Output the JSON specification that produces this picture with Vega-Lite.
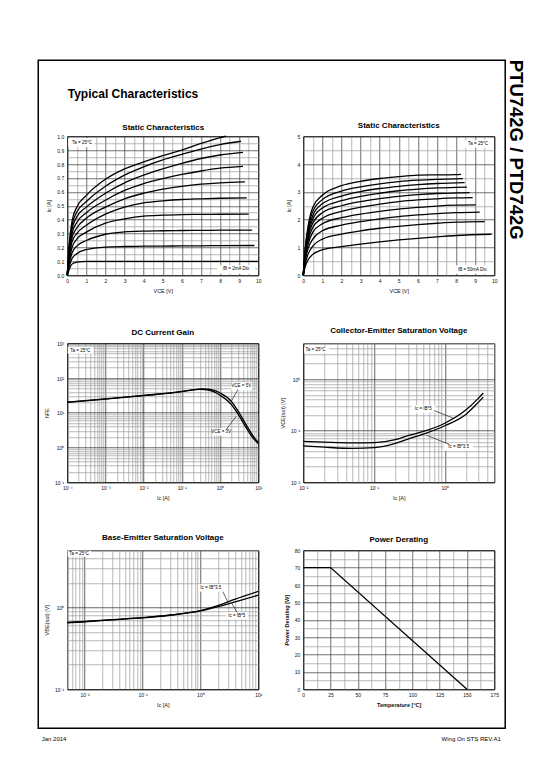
{
"$schema": "https://vega.github.io/schema/vega-lite/v6.json",
"background": "white",
"padding": {"left": 36.25, "top": 58.25, "right": 0, "bottom": 0},
"config": {
  "font": "Liberation Sans",
  "view": {"stroke": "black", "strokeWidth": 1},
  "axis": {"domain": false, "ticks": false, "labelFontSize": 5, "labelColor": "#111", "titleFontSize": 5.5, "titleFontWeight": "normal", "titleColor": "#111", "labelPadding": 3.5, "titlePadding": 5, "gridWidth": 0.7, "gridOpacity": 1, "labelFlush": false, "labelOverlap": false, "labelBound": false},
  "title": {"fontSize": 8, "fontWeight": "bold", "color": "black", "frame": "group", "offset": 4, "anchor": "middle"},
  "line": {"color": "black", "strokeWidth": 1.3},
  "rule": {"color": "black", "strokeWidth": 0.6},
  "text": {"fontSize": 4.5, "color": "black"}
},
"datasets": {
  "s1": [
    {"ib":2,"v":0,"i":0},{"ib":2,"v":0.1,"i":0.04},{"ib":2,"v":0.25,"i":0.08},{"ib":2,"v":0.5,"i":0.095},{"ib":2,"v":1,"i":0.1},{"ib":2,"v":2,"i":0.1},{"ib":2,"v":3,"i":0.1},{"ib":2,"v":4,"i":0.1},{"ib":2,"v":5,"i":0.1},{"ib":2,"v":6,"i":0.1},{"ib":2,"v":7,"i":0.1},{"ib":2,"v":8,"i":0.1},{"ib":2,"v":10,"i":0.1},
    {"ib":4,"v":0,"i":0},{"ib":4,"v":0.1,"i":0.06},{"ib":4,"v":0.25,"i":0.12},{"ib":4,"v":0.5,"i":0.155},{"ib":4,"v":1,"i":0.185},{"ib":4,"v":2,"i":0.203},{"ib":4,"v":3,"i":0.207},{"ib":4,"v":4,"i":0.209},{"ib":4,"v":5,"i":0.21},{"ib":4,"v":6,"i":0.211},{"ib":4,"v":7,"i":0.212},{"ib":4,"v":8,"i":0.213},{"ib":4,"v":9.8,"i":0.214},
    {"ib":6,"v":0,"i":0},{"ib":6,"v":0.1,"i":0.08},{"ib":6,"v":0.25,"i":0.16},{"ib":6,"v":0.5,"i":0.21},{"ib":6,"v":1,"i":0.25},{"ib":6,"v":2,"i":0.295},{"ib":6,"v":3,"i":0.312},{"ib":6,"v":4,"i":0.318},{"ib":6,"v":5,"i":0.32},{"ib":6,"v":6,"i":0.322},{"ib":6,"v":7,"i":0.323},{"ib":6,"v":8,"i":0.324},{"ib":6,"v":9.68,"i":0.325},
    {"ib":8,"v":0,"i":0},{"ib":8,"v":0.1,"i":0.1},{"ib":8,"v":0.25,"i":0.2},{"ib":8,"v":0.5,"i":0.26},{"ib":8,"v":1,"i":0.31},{"ib":8,"v":2,"i":0.375},{"ib":8,"v":3,"i":0.405},{"ib":8,"v":4,"i":0.425},{"ib":8,"v":5,"i":0.432},{"ib":8,"v":6,"i":0.436},{"ib":8,"v":7,"i":0.438},{"ib":8,"v":8,"i":0.439},{"ib":8,"v":9.5,"i":0.44},
    {"ib":10,"v":0,"i":0},{"ib":10,"v":0.1,"i":0.12},{"ib":10,"v":0.25,"i":0.24},{"ib":10,"v":0.5,"i":0.3},{"ib":10,"v":1,"i":0.36},{"ib":10,"v":2,"i":0.44},{"ib":10,"v":3,"i":0.49},{"ib":10,"v":4,"i":0.52},{"ib":10,"v":5,"i":0.535},{"ib":10,"v":6,"i":0.545},{"ib":10,"v":7,"i":0.55},{"ib":10,"v":8,"i":0.554},{"ib":10,"v":9.4,"i":0.557},
    {"ib":12,"v":0,"i":0},{"ib":12,"v":0.1,"i":0.14},{"ib":12,"v":0.25,"i":0.27},{"ib":12,"v":0.5,"i":0.34},{"ib":12,"v":1,"i":0.41},{"ib":12,"v":2,"i":0.49},{"ib":12,"v":3,"i":0.55},{"ib":12,"v":4,"i":0.59},{"ib":12,"v":5,"i":0.62},{"ib":12,"v":6,"i":0.64},{"ib":12,"v":7,"i":0.655},{"ib":12,"v":8,"i":0.665},{"ib":12,"v":9.3,"i":0.672},
    {"ib":14,"v":0,"i":0},{"ib":14,"v":0.1,"i":0.16},{"ib":14,"v":0.25,"i":0.3},{"ib":14,"v":0.5,"i":0.38},{"ib":14,"v":1,"i":0.45},{"ib":14,"v":2,"i":0.54},{"ib":14,"v":3,"i":0.61},{"ib":14,"v":4,"i":0.66},{"ib":14,"v":5,"i":0.695},{"ib":14,"v":6,"i":0.725},{"ib":14,"v":7,"i":0.75},{"ib":14,"v":8,"i":0.77},{"ib":14,"v":9.2,"i":0.783},
    {"ib":16,"v":0,"i":0},{"ib":16,"v":0.1,"i":0.18},{"ib":16,"v":0.25,"i":0.33},{"ib":16,"v":0.5,"i":0.42},{"ib":16,"v":1,"i":0.49},{"ib":16,"v":2,"i":0.59},{"ib":16,"v":3,"i":0.665},{"ib":16,"v":4,"i":0.72},{"ib":16,"v":5,"i":0.765},{"ib":16,"v":6,"i":0.805},{"ib":16,"v":7,"i":0.84},{"ib":16,"v":8,"i":0.865},{"ib":16,"v":9.2,"i":0.884},
    {"ib":18,"v":0,"i":0},{"ib":18,"v":0.1,"i":0.2},{"ib":18,"v":0.25,"i":0.36},{"ib":18,"v":0.5,"i":0.455},{"ib":18,"v":1,"i":0.53},{"ib":18,"v":2,"i":0.64},{"ib":18,"v":3,"i":0.72},{"ib":18,"v":4,"i":0.78},{"ib":18,"v":5,"i":0.83},{"ib":18,"v":6,"i":0.87},{"ib":18,"v":7,"i":0.908},{"ib":18,"v":8,"i":0.94},{"ib":18,"v":9.1,"i":0.964},
    {"ib":20,"v":0,"i":0},{"ib":20,"v":0.1,"i":0.22},{"ib":20,"v":0.25,"i":0.39},{"ib":20,"v":0.5,"i":0.49},{"ib":20,"v":1,"i":0.575},{"ib":20,"v":2,"i":0.69},{"ib":20,"v":3,"i":0.765},{"ib":20,"v":4,"i":0.815},{"ib":20,"v":5,"i":0.86},{"ib":20,"v":6,"i":0.9},{"ib":20,"v":7,"i":0.948},{"ib":20,"v":8,"i":0.99},{"ib":20,"v":8.3,"i":1.0}
  ],
  "s2": [
    {"ib":50,"v":0,"i":0},{"ib":50,"v":0.1,"i":0.3},{"ib":50,"v":0.25,"i":0.55},{"ib":50,"v":0.5,"i":0.75},{"ib":50,"v":1,"i":0.92},{"ib":50,"v":2,"i":1.03},{"ib":50,"v":3,"i":1.12},{"ib":50,"v":4,"i":1.2},{"ib":50,"v":5,"i":1.27},{"ib":50,"v":6,"i":1.33},{"ib":50,"v":7,"i":1.38},{"ib":50,"v":8,"i":1.43},{"ib":50,"v":9.86,"i":1.475},
    {"ib":100,"v":0,"i":0},{"ib":100,"v":0.1,"i":0.4},{"ib":100,"v":0.25,"i":0.75},{"ib":100,"v":0.5,"i":1.05},{"ib":100,"v":1,"i":1.3},{"ib":100,"v":2,"i":1.48},{"ib":100,"v":3,"i":1.6},{"ib":100,"v":4,"i":1.69},{"ib":100,"v":5,"i":1.76},{"ib":100,"v":6,"i":1.82},{"ib":100,"v":7,"i":1.87},{"ib":100,"v":8,"i":1.91},{"ib":100,"v":9.5,"i":1.93},
    {"ib":150,"v":0,"i":0},{"ib":150,"v":0.1,"i":0.5},{"ib":150,"v":0.25,"i":0.95},{"ib":150,"v":0.5,"i":1.3},{"ib":150,"v":1,"i":1.6},{"ib":150,"v":2,"i":1.8},{"ib":150,"v":3,"i":1.93},{"ib":150,"v":4,"i":2.03},{"ib":150,"v":5,"i":2.11},{"ib":150,"v":6,"i":2.17},{"ib":150,"v":7,"i":2.22},{"ib":150,"v":8,"i":2.25},{"ib":150,"v":9.24,"i":2.27},
    {"ib":200,"v":0,"i":0},{"ib":200,"v":0.1,"i":0.6},{"ib":200,"v":0.25,"i":1.1},{"ib":200,"v":0.5,"i":1.55},{"ib":200,"v":1,"i":1.85},{"ib":200,"v":2,"i":2.07},{"ib":200,"v":3,"i":2.2},{"ib":200,"v":4,"i":2.3},{"ib":200,"v":5,"i":2.38},{"ib":200,"v":6,"i":2.44},{"ib":200,"v":7,"i":2.49},{"ib":200,"v":8,"i":2.52},{"ib":200,"v":9.03,"i":2.53},
    {"ib":250,"v":0,"i":0},{"ib":250,"v":0.1,"i":0.7},{"ib":250,"v":0.25,"i":1.25},{"ib":250,"v":0.5,"i":1.72},{"ib":250,"v":1,"i":2.05},{"ib":250,"v":2,"i":2.3},{"ib":250,"v":3,"i":2.45},{"ib":250,"v":4,"i":2.56},{"ib":250,"v":5,"i":2.65},{"ib":250,"v":6,"i":2.71},{"ib":250,"v":7,"i":2.75},{"ib":250,"v":8,"i":2.78},{"ib":250,"v":8.87,"i":2.79},
    {"ib":300,"v":0,"i":0},{"ib":300,"v":0.1,"i":0.75},{"ib":300,"v":0.25,"i":1.35},{"ib":300,"v":0.5,"i":1.88},{"ib":300,"v":1,"i":2.25},{"ib":300,"v":2,"i":2.5},{"ib":300,"v":3,"i":2.65},{"ib":300,"v":4,"i":2.76},{"ib":300,"v":5,"i":2.84},{"ib":300,"v":6,"i":2.9},{"ib":300,"v":7,"i":2.94},{"ib":300,"v":8,"i":2.96},{"ib":300,"v":8.71,"i":2.97},
    {"ib":350,"v":0,"i":0},{"ib":350,"v":0.1,"i":0.8},{"ib":350,"v":0.25,"i":1.45},{"ib":350,"v":0.5,"i":2.02},{"ib":350,"v":1,"i":2.42},{"ib":350,"v":2,"i":2.68},{"ib":350,"v":3,"i":2.84},{"ib":350,"v":4,"i":2.95},{"ib":350,"v":5,"i":3.04},{"ib":350,"v":6,"i":3.1},{"ib":350,"v":7,"i":3.14},{"ib":350,"v":8,"i":3.16},{"ib":350,"v":8.57,"i":3.17},
    {"ib":400,"v":0,"i":0},{"ib":400,"v":0.1,"i":0.85},{"ib":400,"v":0.25,"i":1.55},{"ib":400,"v":0.5,"i":2.15},{"ib":400,"v":1,"i":2.57},{"ib":400,"v":2,"i":2.85},{"ib":400,"v":3,"i":3.01},{"ib":400,"v":4,"i":3.12},{"ib":400,"v":5,"i":3.2},{"ib":400,"v":6,"i":3.26},{"ib":400,"v":7,"i":3.3},{"ib":400,"v":8,"i":3.32},{"ib":400,"v":8.45,"i":3.33},
    {"ib":450,"v":0,"i":0},{"ib":450,"v":0.1,"i":0.9},{"ib":450,"v":0.25,"i":1.65},{"ib":450,"v":0.5,"i":2.3},{"ib":450,"v":1,"i":2.72},{"ib":450,"v":2,"i":3.03},{"ib":450,"v":3,"i":3.18},{"ib":450,"v":4,"i":3.29},{"ib":450,"v":5,"i":3.37},{"ib":450,"v":6,"i":3.42},{"ib":450,"v":7,"i":3.45},{"ib":450,"v":8,"i":3.47},{"ib":450,"v":8.36,"i":3.48},
    {"ib":500,"v":0,"i":0},{"ib":500,"v":0.1,"i":0.95},{"ib":500,"v":0.25,"i":1.75},{"ib":500,"v":0.5,"i":2.45},{"ib":500,"v":1,"i":2.88},{"ib":500,"v":2,"i":3.22},{"ib":500,"v":3,"i":3.38},{"ib":500,"v":4,"i":3.48},{"ib":500,"v":5,"i":3.55},{"ib":500,"v":6,"i":3.6},{"ib":500,"v":7,"i":3.61},{"ib":500,"v":8,"i":3.62},{"ib":500,"v":8.26,"i":3.63}
  ],
  "hfe": [
    {"vce":"5V","ic":0.0001,"h":20.2},{"vce":"5V","ic":0.001,"h":25},{"vce":"5V","ic":0.01,"h":31.5},{"vce":"5V","ic":0.1,"h":41},{"vce":"5V","ic":0.2,"h":46},{"vce":"5V","ic":0.35,"h":48.5},{"vce":"5V","ic":0.5,"h":47.5},{"vce":"5V","ic":0.7,"h":44},{"vce":"5V","ic":1,"h":37},{"vce":"5V","ic":2,"h":21},{"vce":"5V","ic":3,"h":11},{"vce":"5V","ic":5,"h":4.2},{"vce":"5V","ic":7,"h":2.3},{"vce":"5V","ic":10,"h":1.4},
    {"vce":"3V","ic":0.0001,"h":19.8},{"vce":"3V","ic":0.001,"h":24.6},{"vce":"3V","ic":0.01,"h":31},{"vce":"3V","ic":0.1,"h":40.5},{"vce":"3V","ic":0.2,"h":45.5},{"vce":"3V","ic":0.3,"h":47.5},{"vce":"3V","ic":0.5,"h":45},{"vce":"3V","ic":0.7,"h":40},{"vce":"3V","ic":1,"h":32},{"vce":"3V","ic":2,"h":17},{"vce":"3V","ic":3,"h":9},{"vce":"3V","ic":5,"h":3.5},{"vce":"3V","ic":7,"h":2.0},{"vce":"3V","ic":10,"h":1.3}
  ],
  "vcesat": [
    {"cond":"IB*5","ic":0.01,"v":0.062},{"cond":"IB*5","ic":0.02,"v":0.06},{"cond":"IB*5","ic":0.05,"v":0.058},{"cond":"IB*5","ic":0.1,"v":0.059},{"cond":"IB*5","ic":0.2,"v":0.067},{"cond":"IB*5","ic":0.3,"v":0.08},{"cond":"IB*5","ic":0.5,"v":0.097},{"cond":"IB*5","ic":1,"v":0.14},{"cond":"IB*5","ic":2,"v":0.255},{"cond":"IB*5","ic":3,"v":0.43},{"cond":"IB*5","ic":3.5,"v":0.54},
    {"cond":"IB*3.5","ic":0.01,"v":0.051},{"cond":"IB*3.5","ic":0.02,"v":0.048},{"cond":"IB*3.5","ic":0.05,"v":0.0455},{"cond":"IB*3.5","ic":0.1,"v":0.047},{"cond":"IB*3.5","ic":0.2,"v":0.057},{"cond":"IB*3.5","ic":0.3,"v":0.069},{"cond":"IB*3.5","ic":0.5,"v":0.086},{"cond":"IB*3.5","ic":1,"v":0.125},{"cond":"IB*3.5","ic":2,"v":0.21},{"cond":"IB*3.5","ic":3,"v":0.36},{"cond":"IB*3.5","ic":3.5,"v":0.45}
  ],
  "vbesat": [
    {"cond":"IB*3.5","ic":0.005,"v":0.655},{"cond":"IB*3.5","ic":0.01,"v":0.673},{"cond":"IB*3.5","ic":0.03,"v":0.711},{"cond":"IB*3.5","ic":0.1,"v":0.751},{"cond":"IB*3.5","ic":0.3,"v":0.809},{"cond":"IB*3.5","ic":1,"v":0.915},{"cond":"IB*3.5","ic":2,"v":1.05},{"cond":"IB*3.5","ic":4,"v":1.26},{"cond":"IB*3.5","ic":10,"v":1.57},
    {"cond":"IB*5","ic":0.005,"v":0.65},{"cond":"IB*5","ic":0.01,"v":0.668},{"cond":"IB*5","ic":0.03,"v":0.706},{"cond":"IB*5","ic":0.1,"v":0.746},{"cond":"IB*5","ic":0.3,"v":0.803},{"cond":"IB*5","ic":1,"v":0.905},{"cond":"IB*5","ic":2,"v":1.02},{"cond":"IB*5","ic":4,"v":1.17},{"cond":"IB*5","ic":10,"v":1.41}
  ],
  "pd": [{"t":0,"p":70},{"t":25,"p":70},{"t":150,"p":0}]
},
"columns": 2,
"spacing": {"row": 68, "column": 45},
"bounds": "flush",
"concat": [
  {
    "width": 191, "height": 139,
    "resolve": {"axis": {"x": "independent", "y": "independent"}},
    "layer": [
      {"data": {"name": "s1"},
       "mark": {"type": "line", "interpolate": "monotone"},
       "encoding": {
         "x": {"field": "v", "type": "quantitative", "scale": {"domain": [0, 10], "nice": false},
               "axis": {"orient": "bottom", "title": "VCE [V]", "values": [0,0.5,1,1.5,2,2.5,3,3.5,4,4.5,5,5.5,6,6.5,7,7.5,8,8.5,9,9.5,10], "labelExpr": "datum.value % 1 == 0 ? format(datum.value, 'd') : ''", "gridColor": {"condition": {"test": "datum.value % 1 == 0", "value": "#333"}, "value": "#999"}}},
         "y": {"field": "i", "type": "quantitative", "scale": {"domain": [0, 1], "nice": false},
               "axis": {"orient": "left", "title": "Ic [A]", "values": [0,0.05,0.1,0.15,0.2,0.25,0.3,0.35,0.4,0.45,0.5,0.55,0.6,0.65,0.7,0.75,0.8,0.85,0.9,0.95,1], "labelExpr": "round(datum.value*100) % 10 == 0 ? format(datum.value, '.1f') : ''", "gridColor": {"condition": {"test": "round(datum.value*100) % 10 == 0", "value": "#333"}, "value": "#999"}}},
         "detail": {"field": "ib", "type": "nominal"}
       }},
      {"data": {"values": [{}]},
       "mark": {"type": "rect", "filled": false, "stroke": "black", "strokeWidth": 1.5},
       "encoding": {
         "x": {"datum": -1.518, "type": "quantitative", "scale": {"domain": [0, 10], "nice": false},
               "axis": {"orient": "top", "title": "Static Characteristics", "labels": false, "grid": false, "titleFontSize": 8, "titleFontWeight": "bold", "titleColor": "black", "titleX": 95.5, "titleY": -7, "titleAlign": "center", "titleBaseline": "alphabetic"}},
         "x2": {"datum": 22.93},
         "y": {"datum": 1.547, "type": "quantitative", "scale": {"domain": [0, 1], "nice": false},
               "axis": {"orient": "right", "title": "PTU742G / PTD742G", "labels": false, "grid": false, "titleFontSize": 18.5, "titleFontWeight": "bold", "titleColor": "black", "titleAngle": 90, "titleX": 251, "titleY": -77, "titleAlign": "left", "titleBaseline": "alphabetic"}},
         "y2": {"datum": -3.259}
       }},
      {"data": {"values": [{}]},
       "mark": {"type": "rect", "fill": "white"},
       "encoding": {
         "x": {"datum": 0.05, "type": "quantitative", "scale": {"domain": [0, 10], "nice": false},
               "axis": {"orient": "top", "title": "Typical Characteristics", "labels": false, "grid": false, "titleFontSize": 12, "titleFontWeight": "bold", "titleColor": "black", "titleX": 0, "titleY": -39, "titleAlign": "left", "titleBaseline": "alphabetic"}},
         "x2": {"datum": 1.41},
         "y": {"datum": 0.986, "type": "quantitative", "scale": {"domain": [0, 1], "nice": false}, "axis": null},
         "y2": {"datum": 0.921}
       }},
      {"data": {"values": [{}]},
       "mark": {"type": "text", "align": "left", "baseline": "middle"},
       "encoding": {
         "x": {"datum": 0.25, "type": "quantitative", "scale": {"domain": [0, 10], "nice": false},
               "axis": {"orient": "bottom", "title": "Jan 2014", "labels": false, "grid": false, "titleFontSize": 6, "titleColor": "black", "titleX": -26, "titleY": 465, "titleAlign": "left", "titleBaseline": "alphabetic"}},
         "y": {"datum": 0.953, "type": "quantitative", "scale": {"domain": [0, 1], "nice": false}, "axis": null},
         "text": {"value": "Ta = 25°C"}
       }},
      {"data": {"values": [{}]},
       "mark": {"type": "rect", "fill": "white"},
       "encoding": {
         "x": {"datum": 7.85, "type": "quantitative", "scale": {"domain": [0, 10], "nice": false},
               "axis": {"orient": "bottom", "title": "Wing On STS REV.A1", "labels": false, "grid": false, "titleFontSize": 6, "titleColor": "black", "titleX": 433, "titleY": 465, "titleAlign": "right", "titleBaseline": "alphabetic"}},
         "x2": {"datum": 9.84},
         "y": {"datum": 0.072, "type": "quantitative", "scale": {"domain": [0, 1], "nice": false}, "axis": null},
         "y2": {"datum": 0.011}
       }},
      {"data": {"values": [{}]},
       "mark": {"type": "text", "align": "center", "baseline": "middle"},
       "encoding": {
         "x": {"datum": 8.85, "type": "quantitative", "scale": {"domain": [0, 10], "nice": false}, "axis": null},
         "y": {"datum": 0.042, "type": "quantitative", "scale": {"domain": [0, 1], "nice": false}, "axis": null},
         "text": {"value": "IB = 2mA Div."}
       }}
    ]
  },
  {
    "width": 191, "height": 139,
    "title": {"text": "Static Characteristics", "offset": 4},
    "resolve": {"axis": {"x": "independent", "y": "independent"}},
    "layer": [
      {"data": {"name": "s2"},
       "mark": {"type": "line", "interpolate": "monotone"},
       "encoding": {
         "x": {"field": "v", "type": "quantitative", "scale": {"domain": [0, 10], "nice": false},
               "axis": {"orient": "bottom", "title": "VCE [V]", "values": [0,0.5,1,1.5,2,2.5,3,3.5,4,4.5,5,5.5,6,6.5,7,7.5,8,8.5,9,9.5,10], "labelExpr": "datum.value % 1 == 0 ? format(datum.value, 'd') : ''", "gridColor": {"condition": {"test": "datum.value % 1 == 0", "value": "#333"}, "value": "#999"}}},
         "y": {"field": "i", "type": "quantitative", "scale": {"domain": [0, 5], "nice": false},
               "axis": {"orient": "left", "title": "Ic [A]", "values": [0,0.5,1,1.5,2,2.5,3,3.5,4,4.5,5], "labelExpr": "datum.value % 1 == 0 ? format(datum.value, 'd') : ''", "gridColor": {"condition": {"test": "datum.value % 1 == 0", "value": "#333"}, "value": "#999"}}},
         "detail": {"field": "ib", "type": "nominal"}
       }},
      {"data": {"values": [{}]},
       "mark": {"type": "rect", "fill": "white"},
       "encoding": {
         "x": {"datum": 8.43, "type": "quantitative", "scale": {"domain": [0, 10], "nice": false}, "axis": null},
         "x2": {"datum": 9.9},
         "y": {"datum": 4.86, "type": "quantitative", "scale": {"domain": [0, 5], "nice": false}, "axis": null},
         "y2": {"datum": 4.59}
       }},
      {"data": {"values": [{}]},
       "mark": {"type": "text", "align": "center", "baseline": "middle"},
       "encoding": {
         "x": {"datum": 9.15, "type": "quantitative", "scale": {"domain": [0, 10], "nice": false}, "axis": null},
         "y": {"datum": 4.72, "type": "quantitative", "scale": {"domain": [0, 5], "nice": false}, "axis": null},
         "text": {"value": "Ta = 25°C"}
       }},
      {"data": {"values": [{}]},
       "mark": {"type": "rect", "fill": "white"},
       "encoding": {
         "x": {"datum": 7.85, "type": "quantitative", "scale": {"domain": [0, 10], "nice": false}, "axis": null},
         "x2": {"datum": 9.9},
         "y": {"datum": 0.36, "type": "quantitative", "scale": {"domain": [0, 5], "nice": false}, "axis": null},
         "y2": {"datum": 0.054}
       }},
      {"data": {"values": [{}]},
       "mark": {"type": "text", "align": "center", "baseline": "middle"},
       "encoding": {
         "x": {"datum": 8.87, "type": "quantitative", "scale": {"domain": [0, 10], "nice": false}, "axis": null},
         "y": {"datum": 0.2, "type": "quantitative", "scale": {"domain": [0, 5], "nice": false}, "axis": null},
         "text": {"value": "IB = 50mA Div."}
       }}
    ]
  },
  {
    "width": 191, "height": 139,
    "title": {"text": "DC Current Gain", "offset": 4},
    "resolve": {"axis": {"x": "independent", "y": "independent"}},
    "layer": [
      {"data": {"name": "hfe"},
       "mark": {"type": "line", "interpolate": "monotone"},
       "encoding": {
         "x": {"field": "ic", "type": "quantitative", "scale": {"type": "log", "domain": [0.0001, 10], "nice": false},
               "axis": {"orient": "bottom", "title": "Ic [A]", "values": [0.0001,0.0002,0.0003,0.0004,0.0005,0.0006,0.0007,0.0008,0.0009,0.001,0.002,0.003,0.004,0.005,0.006,0.007,0.008,0.009,0.01,0.02,0.03,0.04,0.05,0.06,0.07,0.08,0.09,0.1,0.2,0.3,0.4,0.5,0.6,0.7,0.8,0.9,1,2,3,4,5,6,7,8,9,10], "labelExpr": "abs(log(datum.value)/LN10 - round(log(datum.value)/LN10)) < 0.001 ? '10' + ['⁻⁴','⁻³','⁻²','⁻¹','⁰','¹','²','³'][round(log(datum.value)/LN10)+4] : ''", "gridColor": {"condition": {"test": "abs(log(datum.value)/LN10 - round(log(datum.value)/LN10)) < 0.001", "value": "#222"}, "value": "#999"}}},
         "y": {"field": "h", "type": "quantitative", "scale": {"type": "log", "domain": [0.1, 1000], "nice": false},
               "axis": {"orient": "left", "title": "hFE", "values": [0.1,0.2,0.3,0.4,0.5,0.6,0.7,0.8,0.9,1,2,3,4,5,6,7,8,9,10,20,30,40,50,60,70,80,90,100,200,300,400,500,600,700,800,900,1000], "labelExpr": "abs(log(datum.value)/LN10 - round(log(datum.value)/LN10)) < 0.001 ? '10' + ['⁻⁴','⁻³','⁻²','⁻¹','⁰','¹','²','³'][round(log(datum.value)/LN10)+4] : ''", "gridColor": {"condition": {"test": "abs(log(datum.value)/LN10 - round(log(datum.value)/LN10)) < 0.001", "value": "#222"}, "value": "#999"}}},
         "detail": {"field": "vce", "type": "nominal"}
       }},
      {"data": {"values": [{}]},
       "mark": {"type": "rect", "fill": "white"},
       "encoding": {
         "x": {"datum": 0.000103, "type": "quantitative", "scale": {"type": "log", "domain": [0.0001, 10], "nice": false}, "axis": null},
         "x2": {"datum": 0.00048},
         "y": {"datum": 794, "type": "quantitative", "scale": {"type": "log", "domain": [0.1, 1000], "nice": false}, "axis": null},
         "y2": {"datum": 499}
       }},
      {"data": {"values": [{}]},
       "mark": {"type": "text", "align": "left", "baseline": "middle"},
       "encoding": {
         "x": {"datum": 0.00012, "type": "quantitative", "scale": {"type": "log", "domain": [0.0001, 10], "nice": false}, "axis": null},
         "y": {"datum": 608, "type": "quantitative", "scale": {"type": "log", "domain": [0.1, 1000], "nice": false}, "axis": null},
         "text": {"value": "Ta = 25°C"}
       }},
      {"data": {"values": [{}]},
       "mark": {"type": "rect", "fill": "white"},
       "encoding": {
         "x": {"datum": 1.96, "type": "quantitative", "scale": {"type": "log", "domain": [0.0001, 10], "nice": false}, "axis": null},
         "x2": {"datum": 6.97},
         "y": {"datum": 75.5, "type": "quantitative", "scale": {"type": "log", "domain": [0.1, 1000], "nice": false}, "axis": null},
         "y2": {"datum": 44.4}
       }},
      {"data": {"values": [{}]},
       "mark": {"type": "text", "align": "center", "baseline": "middle"},
       "encoding": {
         "x": {"datum": 3.59, "type": "quantitative", "scale": {"type": "log", "domain": [0.0001, 10], "nice": false}, "axis": null},
         "y": {"datum": 58, "type": "quantitative", "scale": {"type": "log", "domain": [0.1, 1000], "nice": false}, "axis": null},
         "text": {"value": "VCE = 5V"}
       }},
      {"data": {"values": [{}]},
       "mark": {"type": "rule"},
       "encoding": {
         "x": {"datum": 2.94, "type": "quantitative", "scale": {"type": "log", "domain": [0.0001, 10], "nice": false}, "axis": null},
         "x2": {"datum": 1.96},
         "y": {"datum": 46.6, "type": "quantitative", "scale": {"type": "log", "domain": [0.1, 1000], "nice": false}, "axis": null},
         "y2": {"datum": 21.4}
       }},
      {"data": {"values": [{}]},
       "mark": {"type": "rect", "fill": "white"},
       "encoding": {
         "x": {"datum": 0.625, "type": "quantitative", "scale": {"type": "log", "domain": [0.0001, 10], "nice": false}, "axis": null},
         "x2": {"datum": 1.85},
         "y": {"datum": 3.58, "type": "quantitative", "scale": {"type": "log", "domain": [0.1, 1000], "nice": false}, "axis": null},
         "y2": {"datum": 2.18}
       }},
      {"data": {"values": [{}]},
       "mark": {"type": "text", "align": "center", "baseline": "middle"},
       "encoding": {
         "x": {"datum": 1.07, "type": "quantitative", "scale": {"type": "log", "domain": [0.0001, 10], "nice": false}, "axis": null},
         "y": {"datum": 2.8, "type": "quantitative", "scale": {"type": "log", "domain": [0.1, 1000], "nice": false}, "axis": null},
         "text": {"value": "VCE = 3V"}
       }},
      {"data": {"values": [{}]},
       "mark": {"type": "rule"},
       "encoding": {
         "x": {"datum": 1.45, "type": "quantitative", "scale": {"type": "log", "domain": [0.0001, 10], "nice": false}, "axis": null},
         "x2": {"datum": 2.65},
         "y": {"datum": 3.29, "type": "quantitative", "scale": {"type": "log", "domain": [0.1, 1000], "nice": false}, "axis": null},
         "y2": {"datum": 7.9}
       }}
    ]
  },
  {
    "width": 191, "height": 139,
    "title": {"text": "Collector-Emitter Saturation Voltage", "offset": 6},
    "resolve": {"axis": {"x": "independent", "y": "independent"}},
    "layer": [
      {"data": {"name": "vcesat"},
       "mark": {"type": "line", "interpolate": "monotone"},
       "encoding": {
         "x": {"field": "ic", "type": "quantitative", "scale": {"type": "log", "domain": [0.01, 5], "nice": false},
               "axis": {"orient": "bottom", "title": "Ic [A]", "values": [0.01,0.02,0.03,0.04,0.05,0.06,0.07,0.08,0.09,0.1,0.2,0.3,0.4,0.5,0.6,0.7,0.8,0.9,1,2,3,4,5], "labelExpr": "abs(log(datum.value)/LN10 - round(log(datum.value)/LN10)) < 0.001 ? '10' + ['⁻⁴','⁻³','⁻²','⁻¹','⁰','¹','²','³'][round(log(datum.value)/LN10)+4] : ''", "gridColor": {"condition": {"test": "abs(log(datum.value)/LN10 - round(log(datum.value)/LN10)) < 0.001", "value": "#222"}, "value": "#999"}}},
         "y": {"field": "v", "type": "quantitative", "scale": {"type": "log", "domain": [0.01, 5], "nice": false},
               "axis": {"orient": "left", "title": "VCE(sat) [V]", "values": [0.01,0.02,0.03,0.04,0.05,0.06,0.07,0.08,0.09,0.1,0.2,0.3,0.4,0.5,0.6,0.7,0.8,0.9,1,2,3,4,5], "labelExpr": "abs(log(datum.value)/LN10 - round(log(datum.value)/LN10)) < 0.001 ? '10' + ['⁻⁴','⁻³','⁻²','⁻¹','⁰','¹','²','³'][round(log(datum.value)/LN10)+4] : ''", "gridColor": {"condition": {"test": "abs(log(datum.value)/LN10 - round(log(datum.value)/LN10)) < 0.001", "value": "#222"}, "value": "#999"}}},
         "detail": {"field": "cond", "type": "nominal"}
       }},
      {"data": {"values": [{}]},
       "mark": {"type": "rect", "fill": "white"},
       "encoding": {
         "x": {"datum": 0.0103, "type": "quantitative", "scale": {"type": "log", "domain": [0.01, 5], "nice": false}, "axis": null},
         "x2": {"datum": 0.0233},
         "y": {"datum": 4.27, "type": "quantitative", "scale": {"type": "log", "domain": [0.01, 5], "nice": false}, "axis": null},
         "y2": {"datum": 3.2}
       }},
      {"data": {"values": [{}]},
       "mark": {"type": "text", "align": "left", "baseline": "middle"},
       "encoding": {
         "x": {"datum": 0.0108, "type": "quantitative", "scale": {"type": "log", "domain": [0.01, 5], "nice": false}, "axis": null},
         "y": {"datum": 3.7, "type": "quantitative", "scale": {"type": "log", "domain": [0.01, 5], "nice": false}, "axis": null},
         "text": {"value": "Ta = 25°C"}
       }},
      {"data": {"values": [{}]},
       "mark": {"type": "rect", "fill": "white"},
       "encoding": {
         "x": {"datum": 0.336, "type": "quantitative", "scale": {"type": "log", "domain": [0.01, 5], "nice": false}, "axis": null},
         "x2": {"datum": 0.733},
         "y": {"datum": 0.313, "type": "quantitative", "scale": {"type": "log", "domain": [0.01, 5], "nice": false}, "axis": null},
         "y2": {"datum": 0.223}
       }},
      {"data": {"values": [{}]},
       "mark": {"type": "text", "align": "center", "baseline": "middle"},
       "encoding": {
         "x": {"datum": 0.497, "type": "quantitative", "scale": {"type": "log", "domain": [0.01, 5], "nice": false}, "axis": null},
         "y": {"datum": 0.265, "type": "quantitative", "scale": {"type": "log", "domain": [0.01, 5], "nice": false}, "axis": null},
         "text": {"value": "Ic = IB*5"}
       }},
      {"data": {"values": [{}]},
       "mark": {"type": "rule"},
       "encoding": {
         "x": {"datum": 0.7, "type": "quantitative", "scale": {"type": "log", "domain": [0.01, 5], "nice": false}, "axis": null},
         "x2": {"datum": 1.3},
         "y": {"datum": 0.247, "type": "quantitative", "scale": {"type": "log", "domain": [0.01, 5], "nice": false}, "axis": null},
         "y2": {"datum": 0.177}
       }},
      {"data": {"values": [{}]},
       "mark": {"type": "rect", "fill": "white"},
       "encoding": {
         "x": {"datum": 0.983, "type": "quantitative", "scale": {"type": "log", "domain": [0.01, 5], "nice": false}, "axis": null},
         "x2": {"datum": 2.52},
         "y": {"datum": 0.0571, "type": "quantitative", "scale": {"type": "log", "domain": [0.01, 5], "nice": false}, "axis": null},
         "y2": {"datum": 0.041}
       }},
      {"data": {"values": [{}]},
       "mark": {"type": "text", "align": "center", "baseline": "middle"},
       "encoding": {
         "x": {"datum": 1.57, "type": "quantitative", "scale": {"type": "log", "domain": [0.01, 5], "nice": false}, "axis": null},
         "y": {"datum": 0.0485, "type": "quantitative", "scale": {"type": "log", "domain": [0.01, 5], "nice": false}, "axis": null},
         "text": {"value": "Ic = IB*3.5"}
       }},
      {"data": {"values": [{}]},
       "mark": {"type": "rule"},
       "encoding": {
         "x": {"datum": 1.17, "type": "quantitative", "scale": {"type": "log", "domain": [0.01, 5], "nice": false}, "axis": null},
         "x2": {"datum": 0.55},
         "y": {"datum": 0.054, "type": "quantitative", "scale": {"type": "log", "domain": [0.01, 5], "nice": false}, "axis": null},
         "y2": {"datum": 0.082}
       }}
    ]
  },
  {
    "width": 191, "height": 139,
    "title": {"text": "Base-Emitter Saturation Voltage", "offset": 6},
    "resolve": {"axis": {"x": "independent", "y": "independent"}},
    "layer": [
      {"data": {"name": "vbesat"},
       "mark": {"type": "line", "interpolate": "monotone"},
       "encoding": {
         "x": {"field": "ic", "type": "quantitative", "scale": {"type": "log", "domain": [0.005, 10], "nice": false},
               "axis": {"orient": "bottom", "title": "Ic [A]", "values": [0.005,0.006,0.007,0.008,0.009,0.01,0.02,0.03,0.04,0.05,0.06,0.07,0.08,0.09,0.1,0.2,0.3,0.4,0.5,0.6,0.7,0.8,0.9,1,2,3,4,5,6,7,8,9,10], "labelExpr": "abs(log(datum.value)/LN10 - round(log(datum.value)/LN10)) < 0.001 ? '10' + ['⁻⁴','⁻³','⁻²','⁻¹','⁰','¹','²','³'][round(log(datum.value)/LN10)+4] : ''", "gridColor": {"condition": {"test": "abs(log(datum.value)/LN10 - round(log(datum.value)/LN10)) < 0.001", "value": "#222"}, "value": "#999"}}},
         "y": {"field": "v", "type": "quantitative", "scale": {"type": "log", "domain": [0.1, 5], "nice": false},
               "axis": {"orient": "left", "title": "VBE(sat) [V]", "values": [0.1,0.2,0.3,0.4,0.5,0.6,0.7,0.8,0.9,1,2,3,4,5], "labelExpr": "abs(log(datum.value)/LN10 - round(log(datum.value)/LN10)) < 0.001 ? '10' + ['⁻⁴','⁻³','⁻²','⁻¹','⁰','¹','²','³'][round(log(datum.value)/LN10)+4] : ''", "gridColor": {"condition": {"test": "abs(log(datum.value)/LN10 - round(log(datum.value)/LN10)) < 0.001", "value": "#222"}, "value": "#999"}}},
         "detail": {"field": "cond", "type": "nominal"}
       }},
      {"data": {"values": [{}]},
       "mark": {"type": "rect", "fill": "white"},
       "encoding": {
         "x": {"datum": 0.0051, "type": "quantitative", "scale": {"type": "log", "domain": [0.005, 10], "nice": false}, "axis": null},
         "x2": {"datum": 0.013},
         "y": {"datum": 4.93, "type": "quantitative", "scale": {"type": "log", "domain": [0.1, 5], "nice": false}, "axis": null},
         "y2": {"datum": 4.17}
       }},
      {"data": {"values": [{}]},
       "mark": {"type": "text", "align": "left", "baseline": "middle"},
       "encoding": {
         "x": {"datum": 0.0054, "type": "quantitative", "scale": {"type": "log", "domain": [0.005, 10], "nice": false}, "axis": null},
         "y": {"datum": 4.53, "type": "quantitative", "scale": {"type": "log", "domain": [0.1, 5], "nice": false}, "axis": null},
         "text": {"value": "Ta = 25°C"}
       }},
      {"data": {"values": [{}]},
       "mark": {"type": "rect", "fill": "white"},
       "encoding": {
         "x": {"datum": 0.918, "type": "quantitative", "scale": {"type": "log", "domain": [0.005, 10], "nice": false}, "axis": null},
         "x2": {"datum": 2.48},
         "y": {"datum": 1.92, "type": "quantitative", "scale": {"type": "log", "domain": [0.1, 5], "nice": false}, "axis": null},
         "y2": {"datum": 1.56}
       }},
      {"data": {"values": [{}]},
       "mark": {"type": "text", "align": "center", "baseline": "middle"},
       "encoding": {
         "x": {"datum": 1.51, "type": "quantitative", "scale": {"type": "log", "domain": [0.005, 10], "nice": false}, "axis": null},
         "y": {"datum": 1.73, "type": "quantitative", "scale": {"type": "log", "domain": [0.1, 5], "nice": false}, "axis": null},
         "text": {"value": "Ic = IB*3.5"}
       }},
      {"data": {"values": [{}]},
       "mark": {"type": "rule"},
       "encoding": {
         "x": {"datum": 2.45, "type": "quantitative", "scale": {"type": "log", "domain": [0.005, 10], "nice": false}, "axis": null},
         "x2": {"datum": 3.0},
         "y": {"datum": 1.55, "type": "quantitative", "scale": {"type": "log", "domain": [0.1, 5], "nice": false}, "axis": null},
         "y2": {"datum": 1.16}
       }},
      {"data": {"values": [{}]},
       "mark": {"type": "rect", "fill": "white"},
       "encoding": {
         "x": {"datum": 2.74, "type": "quantitative", "scale": {"type": "log", "domain": [0.005, 10], "nice": false}, "axis": null},
         "x2": {"datum": 6.71},
         "y": {"datum": 0.873, "type": "quantitative", "scale": {"type": "log", "domain": [0.1, 5], "nice": false}, "axis": null},
         "y2": {"datum": 0.716}
       }},
      {"data": {"values": [{}]},
       "mark": {"type": "text", "align": "center", "baseline": "middle"},
       "encoding": {
         "x": {"datum": 4.25, "type": "quantitative", "scale": {"type": "log", "domain": [0.005, 10], "nice": false}, "axis": null},
         "y": {"datum": 0.795, "type": "quantitative", "scale": {"type": "log", "domain": [0.1, 5], "nice": false}, "axis": null},
         "text": {"value": "Ic = IB*5"}
       }},
      {"data": {"values": [{}]},
       "mark": {"type": "rule"},
       "encoding": {
         "x": {"datum": 4.3, "type": "quantitative", "scale": {"type": "log", "domain": [0.005, 10], "nice": false}, "axis": null},
         "x2": {"datum": 3.5},
         "y": {"datum": 0.873, "type": "quantitative", "scale": {"type": "log", "domain": [0.1, 5], "nice": false}, "axis": null},
         "y2": {"datum": 1.12}
       }}
    ]
  },
  {
    "width": 191, "height": 139,
    "title": {"text": "Power Derating", "offset": 4},
    "data": {"name": "pd"},
    "mark": {"type": "line", "interpolate": "linear"},
    "encoding": {
      "x": {"field": "t", "type": "quantitative", "scale": {"domain": [0, 175], "nice": false},
            "axis": {"title": "Temperature [°C]", "titleFontWeight": "bold", "values": [0,12.5,25,37.5,50,62.5,75,87.5,100,112.5,125,137.5,150,162.5,175], "labelExpr": "datum.value % 25 == 0 ? format(datum.value, 'd') : ''", "gridColor": {"condition": {"test": "datum.value % 25 == 0", "value": "#333"}, "value": "#999"}}},
      "y": {"field": "p", "type": "quantitative", "scale": {"domain": [0, 80], "nice": false},
            "axis": {"title": "Power Derating [W]", "titleFontWeight": "bold", "values": [0,5,10,15,20,25,30,35,40,45,50,55,60,65,70,75,80], "labelExpr": "datum.value % 10 == 0 ? format(datum.value, 'd') : ''", "gridColor": {"condition": {"test": "datum.value % 10 == 0", "value": "#333"}, "value": "#999"}}}
    }
  }
]
}
